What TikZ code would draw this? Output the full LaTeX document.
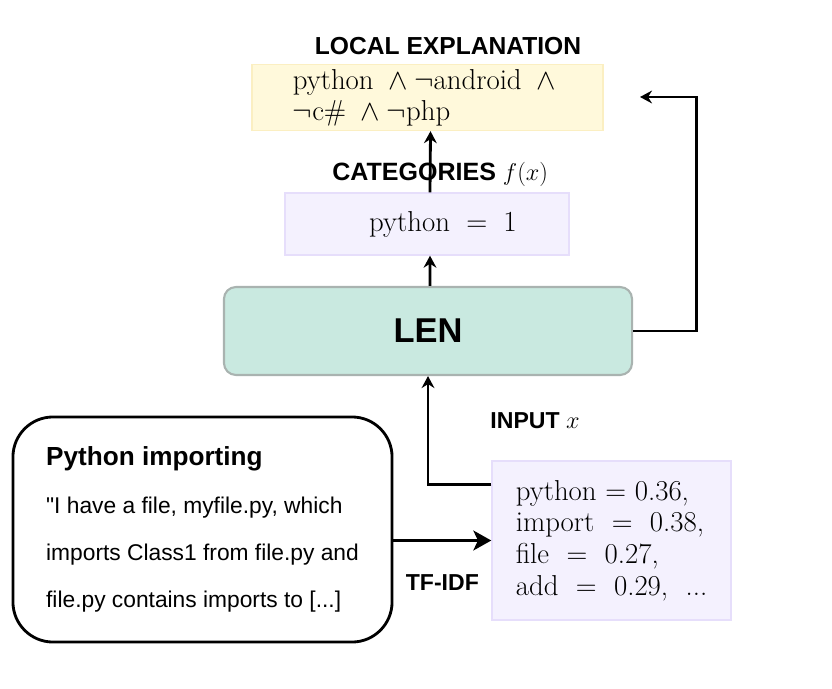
\documentclass[tikz,border=0pt]{standalone}
\usepackage{amsmath}
\usepackage{amssymb}
\usepackage{xcolor}
\usepackage{fontspec}
\setsansfont{Liberation Sans}[Ligatures=TeXOff]
\usepackage{tikz}
\usetikzlibrary{arrows.meta, positioning}

\definecolor{explfill}{HTML}{FFF9DB}
\definecolor{explline}{HTML}{FBEFC2}
\definecolor{catfill}{HTML}{F4F1FE}
\definecolor{catline}{HTML}{E6DEFB}
\definecolor{lenfill}{HTML}{C9E9E0}
\definecolor{lenline}{HTML}{A9B3B0}

\begin{document}
\begin{tikzpicture}[x=0.025cm, y=-0.025cm]

\useasboundingbox (0,0) rectangle (832,688);

% Define styles for the nodes
\tikzstyle{expl} = [rectangle, draw=explline, fill=explfill, line width=1pt, minimum width=8.775cm, minimum height=1.575cm, align=left, font=\fontsize{20.5}{22}\selectfont]
\tikzstyle{cat} = [rectangle, draw=catline, fill=catfill, line width=1pt, minimum width=7.1cm, minimum height=1.55cm, align=left, font=\fontsize{20.5}{22.5}\selectfont]
\tikzstyle{model} = [rectangle, rounded corners=0.3cm, draw=lenline, fill=lenfill, line width=1.5pt, minimum width=10.2cm, minimum height=2.2cm, font=\sffamily\bfseries\fontsize{24.5}{28}\selectfont]
\tikzstyle{doc} = [rectangle, rounded corners=1cm, draw=black, line width=2pt, minimum width=9.475cm, minimum height=5.625cm, align=left, font=\sffamily\fontsize{16.2}{33.5}\selectfont]
\tikzstyle{lbl} = [font=\sffamily\bfseries\fontsize{16.4}{20}\selectfont]
\tikzstyle{conn} = [line width=2pt, -{Stealth[length=0.3cm, width=0.32cm, inset=0.1cm]}]

% Nodes
\node[lbl, font=\sffamily\bfseries\fontsize{17.5}{21}\selectfont] (expltitle) at (448,46) {LOCAL EXPLANATION};
\node[expl] (explbox) at (427.5,97.5) {$\text{python}\;\wedge \neg\text{android}\;\wedge{}$\\$\neg\text{c\#}\;\wedge \neg\text{php}$};
\node[cat] (catbox) at (427,224) {\hspace*{0.8cm}$\text{python} \;=\; 1$};
\node[model] (len) at (428,331) {LEN};
\node[cat, minimum width=5.975cm, minimum height=3.975cm] (inbox) at (611.5,540.5) {python = 0.36,\\import\ \ =\ \ 0.38,\\file\ \ =\ \ 0.27,\\add\ \ =\ \ 0.29,\ \ ...};
\node[doc] (docbox) at (202.5,529.5) {{\bfseries\fontsize{18.6}{33.5}\selectfont Python importing}\\"I have a file, myfile.py, which\\imports Class1 from file.py and\\file.py contains imports to [...]};
\node[lbl] (inputlbl) at (535,421) {INPUT $x$};
\coordinate (explin) at (640,97);

% Arrows
\draw[conn] ([xshift=0.05cm]len.north) -- ([xshift=0.075cm]catbox.south);
\draw[conn] ([xshift=0.075cm]catbox.north) -- ([xshift=0.075cm]explbox.south) node[lbl, font=\sffamily\bfseries\fontsize{17.8}{21}\selectfont, pos=0.3, xshift=0.25cm] {CATEGORIES $f(x)$};
\draw[conn] (len.east) -- ++(63,0) |- (explin);
\draw[conn] ([yshift=1.39cm]inbox.west) -| (len.south);
\draw[line width=2pt, -{Stealth[length=0.45cm, width=0.5cm, inset=0.12cm]}] (docbox.east |- inbox.west) -- (inbox.west) node[lbl, midway, yshift=-1.05cm] {TF-IDF};

\end{tikzpicture}
\end{document}
